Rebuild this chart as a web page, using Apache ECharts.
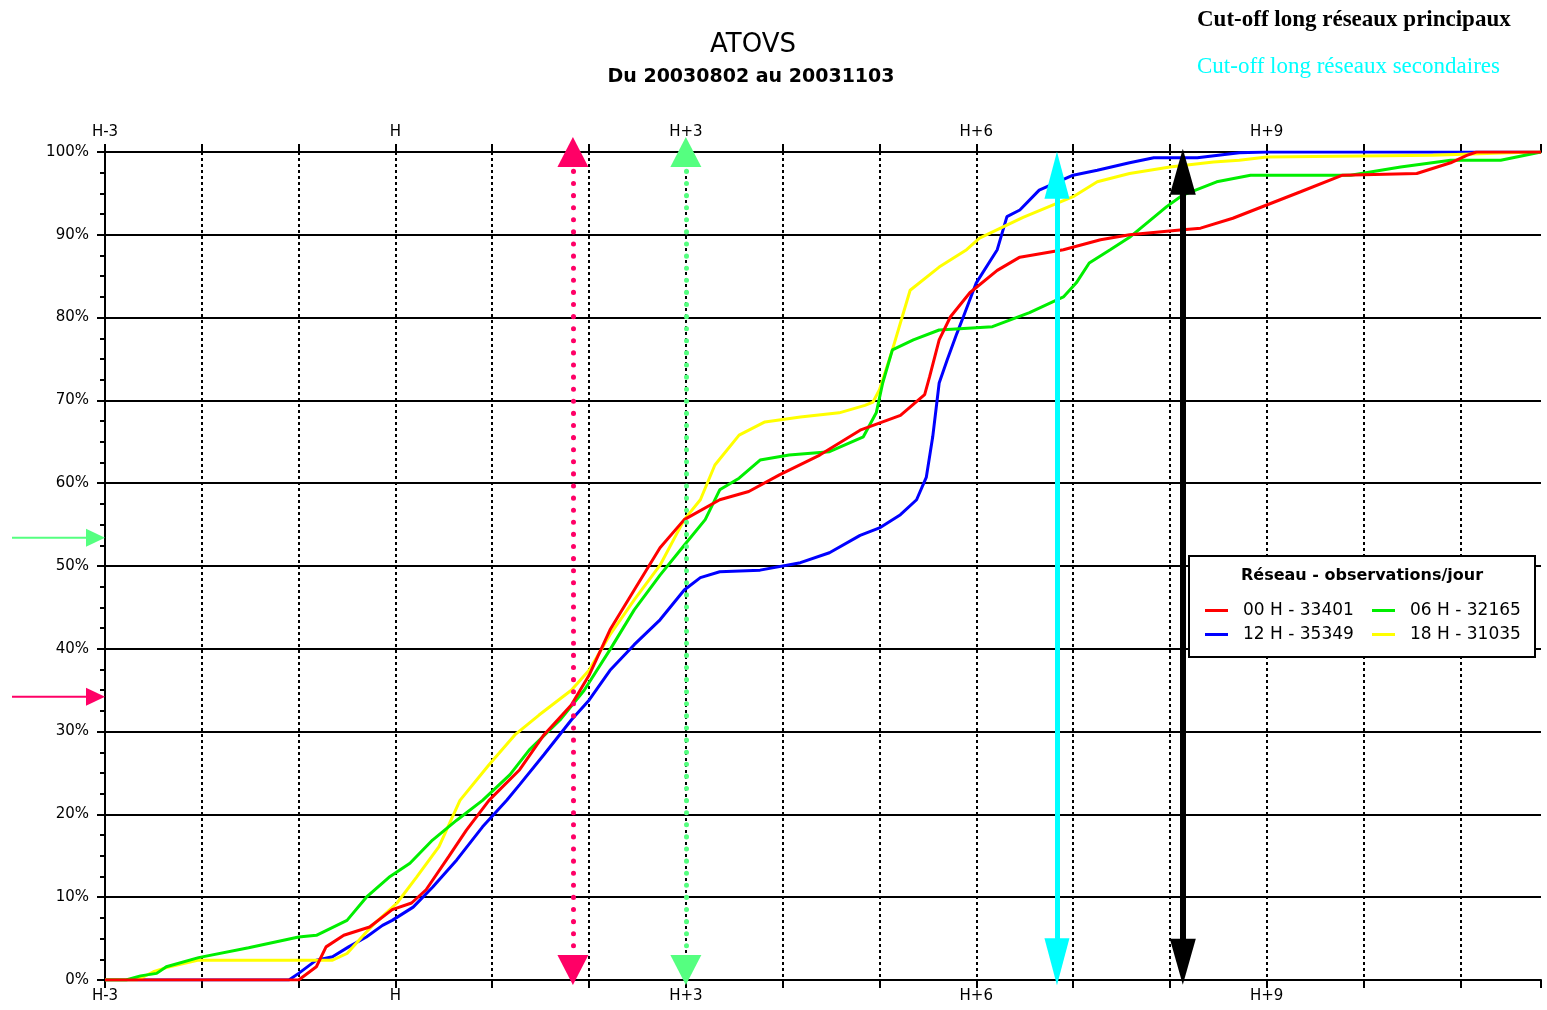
<!DOCTYPE html>
<html>
<head>
<meta charset="utf-8">
<title>ATOVS</title>
<script src="https://cdn.jsdelivr.net/npm/echarts@6/dist/echarts.min.js"></script>
<style>
  html, body { margin: 0; padding: 0; background: #fff; }
  #chart { width: 1547px; height: 1010px; }
</style>
</head>
<body>
<div id="chart"></div>
<script>
// x = minutes relative to H, y = cumulative % of observations received
const red00 = [[-180,0],[-60,0],[-49,1.6],[-43,4],[-32,5.4],[-16,6.4],[-2,8.5],[10,9.3],[19,10.9],[33,14.9],[44,18.1],[58,21.7],[77,25.4],[92,29.6],[109,33.2],[120,36.8],[133,42.3],[148,47.1],[164,52.2],[179,55.6],[201,58],[219,59],[238,61],[263,63.4],[288,66.4],[313,68.2],[328,70.7],[331,72.8],[337,77.3],[344,80.1],[356,83],[373,85.7],[387,87.3],[414,88.2],[437,89.4],[455,90],[488,90.6],[499,90.8],[519,92],[540,93.6],[561,95.2],[587,97.2],[633,97.4],[654,98.7],[664,99.6],[670,100],[710,100]];
const green06 = [[-180,0],[-167,0],[-158,0.5],[-148,0.8],[-142,1.6],[-122,2.7],[-91,3.9],[-60,5.2],[-49,5.4],[-30,7.2],[-18,10],[-4,12.4],[9,14.1],[23,16.9],[38,19.3],[54,21.7],[71,24.8],[83,27.8],[102,31.4],[117,35],[133,39.9],[148,44.7],[164,48.9],[179,52.5],[192,55.6],[201,59.2],[213,60.6],[226,62.8],[244,63.4],[269,63.8],[290,65.6],[298,68.5],[302,72.1],[308,76.1],[321,77.3],[337,78.5],[370,78.9],[393,80.6],[414,82.5],[422,84.2],[430,86.6],[443,88.2],[455,89.7],[478,93.4],[488,94.8],[509,96.4],[530,97.2],[592,97.2],[623,98.2],[654,99],[685,99],[710,100]];
const blue12 = [[-180,0],[-66,0],[-60,0.8],[-49,2.4],[-39,2.8],[-29,4],[-18,5.2],[-8,6.6],[-2,7.2],[11,8.8],[23,11.2],[38,14.5],[54,18.5],[69,21.7],[77,23.6],[92,27.2],[109,31.4],[120,33.8],[133,37.4],[148,40.5],[164,43.5],[179,47.1],[189,48.6],[201,49.3],[226,49.5],[251,50.4],[269,51.6],[288,53.7],[300,54.6],[313,56.2],[323,58],[329,60.7],[333,65.6],[337,72.1],[342,74.9],[348,78.1],[352,80.1],[360,84.2],[373,88.2],[379,92.2],[387,93],[399,95.4],[420,97.2],[435,97.8],[455,98.7],[470,99.3],[497,99.3],[523,99.9],[540,100],[710,100]];
const yellow18 = [[-180,0],[-160,0],[-150,1],[-142,1.5],[-122,2.4],[-39,2.4],[-30,3.2],[-18,5.8],[-12,7],[1,9.3],[13,12.4],[27,16.1],[40,21.7],[58,26],[74,29.6],[89,32],[109,35],[120,37.4],[133,41.7],[148,45.9],[164,50.1],[179,55.6],[189,58],[198,62.2],[213,65.8],[229,67.4],[251,68],[275,68.5],[291,69.4],[296,69.8],[300,71.3],[308,76.1],[319,83.3],[337,86.1],[354,88.2],[362,89.6],[389,92.1],[420,94.6],[435,96.4],[455,97.4],[480,98.2],[507,98.8],[523,99],[540,99.4],[643,99.6],[705,100],[710,100]];

const seriesNames = ['00 H - 33401', '06 H - 32165', '12 H - 35349', '18 H - 31035'];

// cut-off times (minutes after H) and levels marked on the left
const cutoffRed = 110, cutoffGreen = 180, cutoffCyan = 410, cutoffBlack = 488;
const levelRed = 34.2, levelGreen = 53.4;

const xMin = -180, xMax = 710;

function hourLabel(v) {
  if (v % 180 !== 0) return '';
  const h = v / 60;
  if (h === 0) return 'H';
  return h < 0 ? 'H' + h : 'H+' + h;
}

const axisFont = {color: '#000', fontSize: 15, fontFamily: 'DejaVu Sans'};
const black2 = {color: '#000', width: 2};

function arrow(x, y0, y1, color, size, style) {
  const ls = Object.assign({color: color}, style);
  return [
    {coord: [x, y0], symbolSize: size, lineStyle: ls, itemStyle: {color: color}},
    {coord: [x, y1], symbolSize: size, lineStyle: ls, itemStyle: {color: color}}
  ];
}

const myChart = echarts.init(document.getElementById('chart'));

const option = {
  animation: false,
  backgroundColor: '#fff',
  grid: {left: 105, right: 6, top: 152, bottom: 30, containLabel: false},
  xAxis: [
    {
      type: 'value', position: 'bottom', min: xMin, max: xMax, interval: 60,
      axisLine: {show: true, onZero: false, lineStyle: black2},
      axisTick: {show: true, length: 8, lineStyle: black2},
      axisLabel: Object.assign({formatter: hourLabel, margin: 9}, axisFont),
      splitLine: {show: true, showMinLine: false, showMaxLine: false,
        lineStyle: {color: '#000', width: 2, type: [3, 3]}}
    },
    {
      type: 'value', position: 'top', min: xMin, max: xMax, interval: 60,
      axisLine: {show: true, onZero: false, lineStyle: black2},
      axisTick: {show: true, length: 8, lineStyle: black2},
      axisLabel: Object.assign({formatter: hourLabel, margin: 12}, axisFont),
      splitLine: {show: false}
    }
  ],
  yAxis: {
    type: 'value', min: 0, max: 100, interval: 10,
    axisLine: {show: true, onZero: false, lineStyle: black2},
    axisTick: {show: true, length: 8, lineStyle: black2},
    minorTick: {show: true, splitNumber: 4, length: 5, lineStyle: black2},
    axisLabel: Object.assign({formatter: '{value}%', margin: 16}, axisFont),
    splitLine: {show: true, lineStyle: black2}
  },
  legend: [
    {
      data: [seriesNames[0], seriesNames[2]], orient: 'vertical', left: 1200, top: 597,
      icon: 'rect', itemWidth: 23, itemHeight: 3, itemGap: 7, selectedMode: false, z: 20,
      textStyle: {fontSize: 17, fontFamily: 'DejaVu Sans', color: '#000', padding: [0, 0, 0, 10]}
    },
    {
      data: [seriesNames[1], seriesNames[3]], orient: 'vertical', left: 1367, top: 597,
      icon: 'rect', itemWidth: 23, itemHeight: 3, itemGap: 7, selectedMode: false, z: 20,
      textStyle: {fontSize: 17, fontFamily: 'DejaVu Sans', color: '#000', padding: [0, 0, 0, 10]}
    }
  ],
  series: [
    {name: seriesNames[2], type: 'line', data: blue12, color: '#0000ff', showSymbol: false, lineStyle: {width: 3}, z: 3},
    {name: seriesNames[3], type: 'line', data: yellow18, color: '#ffff00', showSymbol: false, lineStyle: {width: 3}, z: 3},
    {name: seriesNames[1], type: 'line', data: green06, color: '#00ee00', showSymbol: false, lineStyle: {width: 3}, z: 3},
    {name: seriesNames[0], type: 'line', data: red00, color: '#ff0000', showSymbol: false, lineStyle: {width: 3}, z: 3},
    {
      name: 'cutoffs', type: 'line', data: [], z: 6, silent: true,
      markLine: {
        silent: true, animation: false, symbol: ['triangle', 'triangle'],
        label: {show: false}, emphasis: {disabled: true},
        data: [
          arrow(cutoffRed, 1.2, 100, '#ff0066', [31, 30], {width: 5, type: [0.1, 12], cap: 'round'}),
          arrow(cutoffGreen, 1.2, 100, '#55ff80', [31, 30], {width: 5, type: [0.1, 12], cap: 'round'}),
          arrow(cutoffCyan, 2.2, 97.2, '#00ffff', [25, 47], {width: 5, type: 'solid'}),
          arrow(cutoffBlack, 2.2, 97.6, '#000000', [26, 46], {width: 6, type: 'solid'})
        ]
      }
    }
  ]
};

myChart.setOption(option);

// left-hand level arrows placed through the y axis scale
function levelArrow(id, level, color) {
  const y = myChart.convertToPixel({yAxisIndex: 0}, level);
  return [
    {type: 'line', id: id + 'L', z: 10, shape: {x1: 12, y1: y, x2: 90, y2: y}, style: {stroke: color, lineWidth: 2}},
    {type: 'polygon', id: id + 'H', z: 10, shape: {points: [[86, y - 9], [105, y], [86, y + 9]]}, style: {fill: color}}
  ];
}

const graphics = [
  {type: 'text', id: 't1', x: 753, y: 45, style: {text: 'ATOVS', align: 'center', verticalAlign: 'middle', fontSize: 26, fontFamily: 'DejaVu Sans', fill: '#000'}},
  {type: 'text', id: 't2', x: 751, y: 77, style: {text: 'Du 20030802 au 20031103', align: 'center', verticalAlign: 'middle', fontSize: 19, fontWeight: 'bold', fontFamily: 'DejaVu Sans', fill: '#000'}},
  {type: 'text', id: 't3', x: 1197, y: 20, style: {text: 'Cut-off long réseaux principaux', align: 'left', verticalAlign: 'middle', fontSize: 23, fontWeight: 'bold', fontFamily: 'Liberation Serif', fill: '#000'}},
  {type: 'text', id: 't4', x: 1197, y: 67, style: {text: 'Cut-off long réseaux secondaires', align: 'left', verticalAlign: 'middle', fontSize: 23, fontFamily: 'Liberation Serif', fill: '#00ffff'}},
  {type: 'rect', id: 'box', z: 8, shape: {x: 1189, y: 556, width: 346, height: 101}, style: {fill: '#fff', stroke: '#000', lineWidth: 2}},
  {type: 'text', id: 'boxTitle', z: 9, x: 1362, y: 576, style: {text: 'Réseau - observations/jour', align: 'center', verticalAlign: 'middle', fontSize: 16, fontWeight: 'bold', fontFamily: 'DejaVu Sans', fill: '#000'}}
].concat(levelArrow('aRed', levelRed, '#ff0066'), levelArrow('aGreen', levelGreen, '#55ff80'));

myChart.setOption({graphic: {elements: graphics}});
</script>
</body>
</html>
